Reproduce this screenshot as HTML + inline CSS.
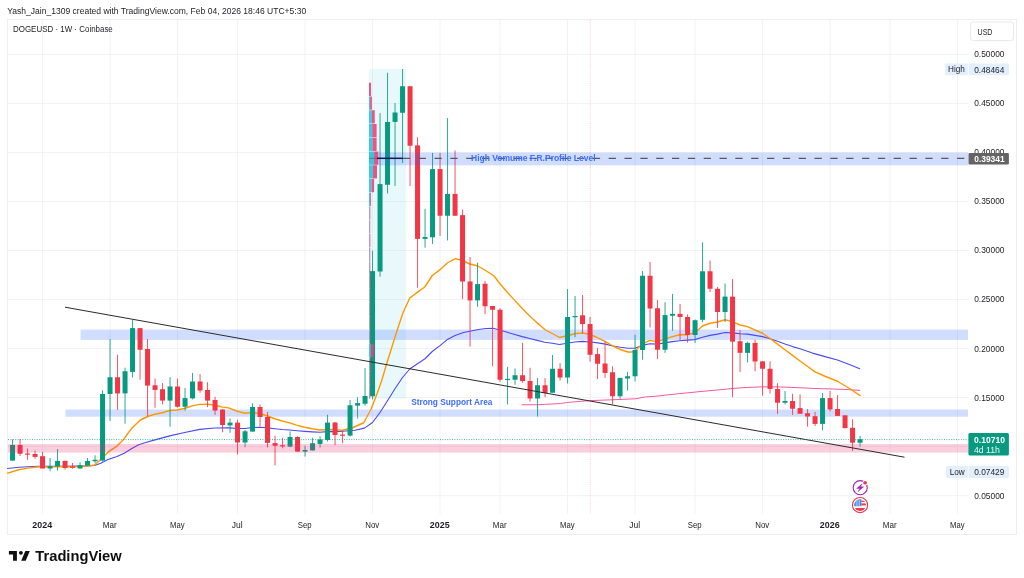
<!DOCTYPE html>
<html lang="en"><head><meta charset="utf-8"><title>DOGEUSD 1W chart</title>
<style>html,body{margin:0;padding:0;background:#fff;}body{width:1024px;height:578px;overflow:hidden;}svg{display:block;}text{font-family:'Liberation Sans', sans-serif;}</style>
</head><body>
<svg width="1024" height="578" viewBox="0 0 1024 578">
<rect x="0" y="0" width="1024" height="578" fill="#ffffff"/>
<g stroke="#f2f2f3" stroke-width="1" fill="none">
<line x1="42.55" y1="20" x2="42.55" y2="514"/>
<line x1="110.05" y1="20" x2="110.05" y2="514"/>
<line x1="177.55" y1="20" x2="177.55" y2="514"/>
<line x1="237.55" y1="20" x2="237.55" y2="514"/>
<line x1="305.05" y1="20" x2="305.05" y2="514"/>
<line x1="372.55" y1="20" x2="372.55" y2="514"/>
<line x1="440.05" y1="20" x2="440.05" y2="514"/>
<line x1="500.05" y1="20" x2="500.05" y2="514"/>
<line x1="567.55" y1="20" x2="567.55" y2="514"/>
<line x1="635.05" y1="20" x2="635.05" y2="514"/>
<line x1="695.05" y1="20" x2="695.05" y2="514"/>
<line x1="762.55" y1="20" x2="762.55" y2="514"/>
<line x1="830.05" y1="20" x2="830.05" y2="514"/>
<line x1="890.05" y1="20" x2="890.05" y2="514"/>
<line x1="957.55" y1="20" x2="957.55" y2="514"/>
<line x1="8" y1="54.4" x2="968.5" y2="54.4"/>
<line x1="8" y1="103.4" x2="968.5" y2="103.4"/>
<line x1="8" y1="152.4" x2="968.5" y2="152.4"/>
<line x1="8" y1="201.5" x2="968.5" y2="201.5"/>
<line x1="8" y1="250.5" x2="968.5" y2="250.5"/>
<line x1="8" y1="299.5" x2="968.5" y2="299.5"/>
<line x1="8" y1="348.5" x2="968.5" y2="348.5"/>
<line x1="8" y1="397.5" x2="968.5" y2="397.5"/>
<line x1="8" y1="446.6" x2="968.5" y2="446.6"/>
<line x1="8" y1="495.7" x2="968.5" y2="495.7"/>
</g>
<rect x="7.4" y="19.4" width="1009.1" height="515.1" fill="none" stroke="#eeeef0" stroke-width="1"/>
<rect x="369" y="69" width="37" height="329.75" fill="#26c6da" fill-opacity="0.10"/>
<rect x="80.6" y="329.6" width="887.4" height="10.3" fill="#2962ff" fill-opacity="0.22"/>
<rect x="65.5" y="409.5" width="902.5" height="7.2" fill="#2962ff" fill-opacity="0.22"/>
<line x1="590.3" y1="20" x2="590.3" y2="514" stroke="#f48fb1" stroke-width="1" stroke-dasharray="1 1.1" stroke-opacity="0.45"/>
<g fill="none" stroke-linejoin="round" stroke-linecap="round">
<path d="M522.25 404.75 L537.25 404.75 L544.25 404.4 L552.25 404 L560.5 403.5 L567.25 402.5 L578 401.5 L590.5 400.6 L613 399.75 L635.5 398.75 L645.5 396.9 L656 396.25 L670 394.6 L690 392.6 L704 391.2 L720 389.75 L732.5 388.5 L745 387.5 L762.5 386.9 L777.5 386.9 L795 387.5 L815 388.5 L832.5 389 L848 389.6 L859.75 390.4" stroke="#f8589f" stroke-width="1"/>
<path d="M7.5 468.5 L18.75 467.25 L37.5 466.25 L62.5 466.25 L87.5 465.9 L94.5 465.45 L100.8 463.2 L108 459.6 L117 456.45 L124.2 453.3 L131.4 448.8 L138.6 444.75 L145.8 442.5 L154 440.1 L169.75 435.9 L183.5 432.75 L199.75 429.4 L214.75 428 L229.75 427.9 L237.25 428.5 L244.75 428.5 L252.25 427.5 L259.75 427.25 L267.5 427.9 L274.75 428.75 L282.25 429.5 L289.75 430 L297.25 430.75 L304.75 431.4 L312.25 431.9 L319.75 432.25 L327.25 431.6 L334.75 431.6 L342.5 431.25 L355 430.25 L364.4 428.1 L372.5 422.5 L380 412.5 L388.75 398.75 L395 388.75 L402.5 377.5 L410 368.75 L417.5 363.75 L425 358.75 L432.5 351.25 L440 345.6 L447.5 339.4 L455 335.5 L463.5 332.5 L471 331 L478.5 329.5 L486 328.5 L492.9 328.25 L499.75 330 L507.25 332.25 L514.75 334.5 L522.25 336.6 L529.75 338.5 L537.25 340.4 L544.75 342.25 L552.25 343.25 L559.5 344.5 L567.25 343.25 L574.75 342 L582.25 341.4 L590.4 342 L597.9 342.9 L605.4 344.1 L612.9 346 L620.4 347.25 L627.9 348.25 L634.75 348.25 L642.25 345.4 L649.75 343.75 L657.25 344.1 L664.75 342.9 L672.25 341.6 L679.75 340.75 L687.25 340.1 L694.75 339.6 L702.5 337.25 L710 335.4 L717.5 334.1 L725 332.5 L732.5 332.9 L740 333.75 L747.5 334.1 L755 335.4 L762.5 336.6 L770 338.75 L777.5 341.25 L785 344.1 L792.5 346.6 L800 348.8 L812.5 353.1 L825 356.6 L837.5 360 L850 364.75 L859.75 368.75" stroke="#4a4af5" stroke-width="1.1"/>
<path d="M7.5 473.1 L18.75 469.75 L27.5 468.1 L37.5 467 L50 466.9 L62.5 466.5 L75 466.75 L87.5 466 L94.5 465 L99 461 L105.3 455.1 L109.35 451.05 L117 446.1 L123.3 439.8 L127.8 433.5 L132.3 427.65 L140.4 420 L147.5 416.5 L154.75 414.25 L162.25 412.75 L169.75 410.5 L177.25 410 L184.5 408.5 L192.25 405.9 L199.75 404.4 L207.25 404.25 L214.75 405 L222.5 407.1 L228.5 407.9 L237.25 411.25 L244.75 413.25 L252.25 412.5 L259.75 413.5 L267.5 416 L274.75 418.75 L282.25 421 L289.75 422.9 L297.25 425.4 L304.75 427.25 L312.25 428.75 L319.75 430 L327.25 429.5 L334.75 429.75 L342.5 430.25 L352.5 427.75 L363.75 422.75 L371.25 408.75 L377.5 392.5 L381.9 380 L386.25 365 L397.25 330 L402.9 313 L409.75 298 L417.25 292.4 L424.75 287 L432.25 275.5 L439.75 269.9 L447.25 263 L455.4 258.6 L462.25 260.5 L469.75 264 L477.25 265.75 L484 269.5 L494.1 276 L499.75 283.5 L507.25 292.25 L514.75 300.4 L522.25 308.5 L529.75 316 L537.25 322.9 L545.4 330 L552.25 333.5 L559.5 337.5 L567.25 335.75 L574.75 333.75 L582.25 332.9 L590.4 334.5 L597.9 337.9 L605.4 341.6 L612.9 346 L620.4 349.5 L627.9 352 L632.25 352 L636 350 L642.25 344.1 L649.75 340.4 L657.25 341.6 L664.75 339.1 L672.25 336.6 L679.75 334.75 L687.25 334.75 L694.75 332.9 L702.5 326 L710 323.25 L717.5 322 L725 319.75 L732.5 321.6 L740 325 L747.5 326.6 L755 330 L762.5 333.25 L770 338.5 L777.5 344.1 L785 349.75 L792.5 355.4 L800 361 L808.75 367.25 L815 371.9 L825 376.25 L837.5 381.25 L850 388.75 L860 395.6" stroke="#ff9800" stroke-width="1.4"/>
</g>
<g>
<rect x="12.05" y="439.4" width="1" height="21.2" fill="#089981" fill-opacity="0.85"/>
<rect x="10.05" y="445" width="5" height="15.6" fill="#089981"/>
<rect x="19.55" y="439" width="1" height="17" fill="#f23645" fill-opacity="0.85"/>
<rect x="17.55" y="445" width="5" height="8.75" fill="#f23645"/>
<rect x="27.05" y="448.5" width="1" height="11.2" fill="#f23645" fill-opacity="0.85"/>
<rect x="25.05" y="453.5" width="5" height="1.2" fill="#f23645"/>
<rect x="34.55" y="450.6" width="1" height="8.1" fill="#f23645" fill-opacity="0.85"/>
<rect x="32.55" y="454" width="5" height="2.9" fill="#f23645"/>
<rect x="42.05" y="452" width="1" height="16.5" fill="#f23645" fill-opacity="0.85"/>
<rect x="40.05" y="456.2" width="5" height="12.3" fill="#f23645"/>
<rect x="49.55" y="457.9" width="1" height="13.3" fill="#089981" fill-opacity="0.85"/>
<rect x="47.55" y="466.2" width="5" height="2.3" fill="#089981"/>
<rect x="57.05" y="449" width="1" height="21.6" fill="#089981" fill-opacity="0.85"/>
<rect x="55.05" y="460.9" width="5" height="5.6" fill="#089981"/>
<rect x="64.55" y="460.6" width="1" height="9.15" fill="#f23645" fill-opacity="0.85"/>
<rect x="62.55" y="460.9" width="5" height="7" fill="#f23645"/>
<rect x="72.05" y="462.9" width="1" height="5.85" fill="#f23645" fill-opacity="0.85"/>
<rect x="70.05" y="466.5" width="5" height="1.25" fill="#f23645"/>
<rect x="79.55" y="462.25" width="1" height="6.25" fill="#089981" fill-opacity="0.85"/>
<rect x="77.55" y="465.25" width="5" height="3.25" fill="#089981"/>
<rect x="87.05" y="457.9" width="1" height="7.7" fill="#089981" fill-opacity="0.85"/>
<rect x="85.05" y="460.9" width="5" height="4.7" fill="#089981"/>
<rect x="94.55" y="455.25" width="1" height="7.85" fill="#089981" fill-opacity="0.85"/>
<rect x="92.55" y="459.75" width="5" height="1.5" fill="#089981"/>
<rect x="102.05" y="390.25" width="1" height="71.25" fill="#089981" fill-opacity="0.85"/>
<rect x="100.05" y="394" width="5" height="66.6" fill="#089981"/>
<rect x="109.55" y="339" width="1" height="81.9" fill="#089981" fill-opacity="0.85"/>
<rect x="107.55" y="377.25" width="5" height="16.75" fill="#089981"/>
<rect x="117.05" y="354.75" width="1" height="55.25" fill="#f23645" fill-opacity="0.85"/>
<rect x="115.05" y="377.25" width="5" height="16.15" fill="#f23645"/>
<rect x="124.55" y="367.75" width="1" height="55.85" fill="#089981" fill-opacity="0.85"/>
<rect x="122.55" y="371.25" width="5" height="22.15" fill="#089981"/>
<rect x="132.05" y="320" width="1" height="57.5" fill="#089981" fill-opacity="0.85"/>
<rect x="130.05" y="328.1" width="5" height="43.8" fill="#089981"/>
<rect x="139.55" y="328.1" width="1" height="51.65" fill="#f23645" fill-opacity="0.85"/>
<rect x="137.55" y="328.1" width="5" height="21.65" fill="#f23645"/>
<rect x="147.05" y="339" width="1" height="77.5" fill="#f23645" fill-opacity="0.85"/>
<rect x="145.05" y="349" width="5" height="36.6" fill="#f23645"/>
<rect x="154.55" y="378.5" width="1" height="29.25" fill="#f23645" fill-opacity="0.85"/>
<rect x="152.55" y="385.25" width="5" height="4.65" fill="#f23645"/>
<rect x="162.05" y="383" width="1" height="21.4" fill="#f23645" fill-opacity="0.85"/>
<rect x="160.05" y="389.25" width="5" height="11.35" fill="#f23645"/>
<rect x="169.55" y="377.1" width="1" height="49.65" fill="#089981" fill-opacity="0.85"/>
<rect x="167.55" y="386.5" width="5" height="14.1" fill="#089981"/>
<rect x="177.05" y="378.6" width="1" height="28.9" fill="#f23645" fill-opacity="0.85"/>
<rect x="175.05" y="386.5" width="5" height="20.25" fill="#f23645"/>
<rect x="184.55" y="388" width="1" height="22.6" fill="#089981" fill-opacity="0.85"/>
<rect x="182.55" y="398.1" width="5" height="8.65" fill="#089981"/>
<rect x="192.05" y="372.9" width="1" height="26.5" fill="#089981" fill-opacity="0.85"/>
<rect x="190.05" y="381.5" width="5" height="16.9" fill="#089981"/>
<rect x="199.55" y="374.1" width="1" height="18.65" fill="#f23645" fill-opacity="0.85"/>
<rect x="197.55" y="381.5" width="5" height="9" fill="#f23645"/>
<rect x="207.05" y="382.1" width="1" height="25" fill="#f23645" fill-opacity="0.85"/>
<rect x="205.05" y="390" width="5" height="10.6" fill="#f23645"/>
<rect x="214.55" y="396.75" width="1" height="18.25" fill="#f23645" fill-opacity="0.85"/>
<rect x="212.55" y="400" width="5" height="10.6" fill="#f23645"/>
<rect x="222.05" y="409" width="1" height="23.25" fill="#f23645" fill-opacity="0.85"/>
<rect x="220.05" y="409.6" width="5" height="15.4" fill="#f23645"/>
<rect x="229.55" y="418.5" width="1" height="14.4" fill="#089981" fill-opacity="0.85"/>
<rect x="227.55" y="422.6" width="5" height="2.8" fill="#089981"/>
<rect x="237.05" y="419.75" width="1" height="34.75" fill="#f23645" fill-opacity="0.85"/>
<rect x="235.05" y="422.6" width="5" height="19.9" fill="#f23645"/>
<rect x="244.55" y="430" width="1" height="17.25" fill="#089981" fill-opacity="0.85"/>
<rect x="242.55" y="431.25" width="5" height="11.25" fill="#089981"/>
<rect x="252.05" y="403.25" width="1" height="28.35" fill="#089981" fill-opacity="0.85"/>
<rect x="250.05" y="407" width="5" height="24.6" fill="#089981"/>
<rect x="259.55" y="404.5" width="1" height="22.1" fill="#f23645" fill-opacity="0.85"/>
<rect x="257.55" y="407" width="5" height="10" fill="#f23645"/>
<rect x="267.05" y="412" width="1" height="35.5" fill="#f23645" fill-opacity="0.85"/>
<rect x="265.05" y="417" width="5" height="25.9" fill="#f23645"/>
<rect x="274.55" y="435.75" width="1" height="29.65" fill="#f23645" fill-opacity="0.85"/>
<rect x="272.55" y="443.1" width="5" height="2.65" fill="#f23645"/>
<rect x="282.05" y="437.9" width="1" height="10.35" fill="#f23645" fill-opacity="0.85"/>
<rect x="280.05" y="445.22" width="5" height="1.2" fill="#f23645"/>
<rect x="289.55" y="431.4" width="1" height="15.85" fill="#089981" fill-opacity="0.85"/>
<rect x="287.55" y="437" width="5" height="9.6" fill="#089981"/>
<rect x="297.05" y="436.25" width="1" height="15.35" fill="#f23645" fill-opacity="0.85"/>
<rect x="295.05" y="437" width="5" height="14.6" fill="#f23645"/>
<rect x="304.55" y="445.75" width="1" height="10.85" fill="#089981" fill-opacity="0.85"/>
<rect x="302.55" y="450" width="5" height="1.6" fill="#089981"/>
<rect x="312.05" y="437.9" width="1" height="12.5" fill="#089981" fill-opacity="0.85"/>
<rect x="310.05" y="443.25" width="5" height="7.15" fill="#089981"/>
<rect x="319.55" y="436.25" width="1" height="11.25" fill="#089981" fill-opacity="0.85"/>
<rect x="317.55" y="439.5" width="5" height="4.4" fill="#089981"/>
<rect x="327.05" y="414.75" width="1" height="26.85" fill="#089981" fill-opacity="0.85"/>
<rect x="325.05" y="422.6" width="5" height="17.4" fill="#089981"/>
<rect x="334.55" y="422" width="1" height="23.2" fill="#f23645" fill-opacity="0.85"/>
<rect x="332.55" y="422.5" width="5" height="12.5" fill="#f23645"/>
<rect x="342.05" y="430.5" width="1" height="12.7" fill="#f23645" fill-opacity="0.85"/>
<rect x="340.05" y="434.57" width="5" height="1.2" fill="#f23645"/>
<rect x="349.55" y="400" width="1" height="36.5" fill="#089981" fill-opacity="0.85"/>
<rect x="347.55" y="405.25" width="5" height="30.35" fill="#089981"/>
<rect x="357.05" y="397.25" width="1" height="21.25" fill="#089981" fill-opacity="0.85"/>
<rect x="355.05" y="403.1" width="5" height="2.5" fill="#089981"/>
<rect x="364.55" y="368.1" width="1" height="37.5" fill="#089981" fill-opacity="0.85"/>
<rect x="362.55" y="396" width="5" height="7.75" fill="#089981"/>
<rect x="372.05" y="250.75" width="1" height="148.65" fill="#089981" fill-opacity="0.85"/>
<rect x="370.05" y="271.1" width="5" height="125.15" fill="#089981"/>
<rect x="379.55" y="113.1" width="1" height="163.65" fill="#089981" fill-opacity="0.85"/>
<rect x="377.55" y="184.1" width="5" height="87.4" fill="#089981"/>
<rect x="387.05" y="72.75" width="1" height="120.75" fill="#089981" fill-opacity="0.85"/>
<rect x="385.05" y="121.9" width="5" height="62.85" fill="#089981"/>
<rect x="394.55" y="103.1" width="1" height="82.9" fill="#089981" fill-opacity="0.85"/>
<rect x="392.55" y="112.5" width="5" height="9.4" fill="#089981"/>
<rect x="402.05" y="69" width="1" height="93.9" fill="#089981" fill-opacity="0.85"/>
<rect x="400.05" y="86.25" width="5" height="26.5" fill="#089981"/>
<rect x="409.55" y="86.25" width="1" height="99.75" fill="#f23645" fill-opacity="0.85"/>
<rect x="407.55" y="86.25" width="5" height="59.5" fill="#f23645"/>
<rect x="417.05" y="137.25" width="1" height="150.5" fill="#f23645" fill-opacity="0.85"/>
<rect x="415.05" y="145.4" width="5" height="93.5" fill="#f23645"/>
<rect x="424.55" y="208.9" width="1" height="38.7" fill="#089981" fill-opacity="0.85"/>
<rect x="422.55" y="237" width="5" height="1.9" fill="#089981"/>
<rect x="432.05" y="152.9" width="1" height="91" fill="#089981" fill-opacity="0.85"/>
<rect x="430.05" y="169.1" width="5" height="68.15" fill="#089981"/>
<rect x="439.55" y="152.9" width="1" height="83.1" fill="#f23645" fill-opacity="0.85"/>
<rect x="437.55" y="169.1" width="5" height="46.65" fill="#f23645"/>
<rect x="447.05" y="118.1" width="1" height="122.4" fill="#089981" fill-opacity="0.85"/>
<rect x="445.05" y="193.9" width="5" height="21.85" fill="#089981"/>
<rect x="454.55" y="150.4" width="1" height="65.35" fill="#f23645" fill-opacity="0.85"/>
<rect x="452.55" y="193.9" width="5" height="21.85" fill="#f23645"/>
<rect x="462.05" y="209.5" width="1" height="89.7" fill="#f23645" fill-opacity="0.85"/>
<rect x="460.05" y="215.1" width="5" height="66.4" fill="#f23645"/>
<rect x="469.55" y="257" width="1" height="89.6" fill="#f23645" fill-opacity="0.85"/>
<rect x="467.55" y="281.5" width="5" height="18.9" fill="#f23645"/>
<rect x="477.05" y="262.7" width="1" height="44.1" fill="#089981" fill-opacity="0.85"/>
<rect x="475.05" y="284.1" width="5" height="16.3" fill="#089981"/>
<rect x="484.55" y="281" width="1" height="33.1" fill="#f23645" fill-opacity="0.85"/>
<rect x="482.55" y="283.75" width="5" height="22.5" fill="#f23645"/>
<rect x="492.05" y="306" width="1" height="60.25" fill="#f23645" fill-opacity="0.85"/>
<rect x="490.05" y="306" width="5" height="3.75" fill="#f23645"/>
<rect x="499.55" y="308.25" width="1" height="73.65" fill="#f23645" fill-opacity="0.85"/>
<rect x="497.55" y="309.75" width="5" height="70" fill="#f23645"/>
<rect x="507.05" y="366.9" width="1" height="37.5" fill="#089981" fill-opacity="0.85"/>
<rect x="505.05" y="378.85" width="5" height="1.2" fill="#089981"/>
<rect x="514.55" y="368.5" width="1" height="16.25" fill="#089981" fill-opacity="0.85"/>
<rect x="512.55" y="375.25" width="5" height="4.5" fill="#089981"/>
<rect x="522.05" y="342.8" width="1" height="39.95" fill="#f23645" fill-opacity="0.85"/>
<rect x="520.05" y="375.25" width="5" height="5.75" fill="#f23645"/>
<rect x="529.55" y="367.75" width="1" height="33.75" fill="#f23645" fill-opacity="0.85"/>
<rect x="527.55" y="381" width="5" height="17.5" fill="#f23645"/>
<rect x="537.05" y="378.1" width="1" height="38.4" fill="#089981" fill-opacity="0.85"/>
<rect x="535.05" y="385.25" width="5" height="13.25" fill="#089981"/>
<rect x="544.55" y="378.1" width="1" height="19.15" fill="#f23645" fill-opacity="0.85"/>
<rect x="542.55" y="385.25" width="5" height="7.85" fill="#f23645"/>
<rect x="552.05" y="355" width="1" height="37.75" fill="#089981" fill-opacity="0.85"/>
<rect x="550.05" y="368.75" width="5" height="24" fill="#089981"/>
<rect x="559.55" y="363.1" width="1" height="17.5" fill="#f23645" fill-opacity="0.85"/>
<rect x="557.55" y="368.75" width="5" height="8.75" fill="#f23645"/>
<rect x="567.05" y="289.1" width="1" height="94.4" fill="#089981" fill-opacity="0.85"/>
<rect x="565.05" y="317" width="5" height="60.5" fill="#089981"/>
<rect x="574.55" y="296" width="1" height="41.25" fill="#089981" fill-opacity="0.85"/>
<rect x="572.55" y="316" width="5" height="1.25" fill="#089981"/>
<rect x="582.05" y="295" width="1" height="38.8" fill="#f23645" fill-opacity="0.85"/>
<rect x="580.05" y="315.3" width="5" height="8.8" fill="#f23645"/>
<rect x="589.55" y="317" width="1" height="44.6" fill="#f23645" fill-opacity="0.85"/>
<rect x="587.55" y="324" width="5" height="30.75" fill="#f23645"/>
<rect x="597.05" y="347.9" width="1" height="31.2" fill="#f23645" fill-opacity="0.85"/>
<rect x="595.05" y="354.1" width="5" height="9.65" fill="#f23645"/>
<rect x="604.55" y="341.6" width="1" height="36.3" fill="#f23645" fill-opacity="0.85"/>
<rect x="602.55" y="363.5" width="5" height="9.4" fill="#f23645"/>
<rect x="612.05" y="366.25" width="1" height="38.15" fill="#f23645" fill-opacity="0.85"/>
<rect x="610.05" y="372.25" width="5" height="24" fill="#f23645"/>
<rect x="619.55" y="377.9" width="1" height="20.85" fill="#089981" fill-opacity="0.85"/>
<rect x="617.55" y="377.9" width="5" height="18.35" fill="#089981"/>
<rect x="627.05" y="372" width="1" height="18.6" fill="#089981" fill-opacity="0.85"/>
<rect x="625.05" y="376.25" width="5" height="2.25" fill="#089981"/>
<rect x="634.55" y="334.75" width="1" height="46.65" fill="#089981" fill-opacity="0.85"/>
<rect x="632.55" y="350" width="5" height="26.25" fill="#089981"/>
<rect x="642.05" y="271" width="1" height="88.75" fill="#089981" fill-opacity="0.85"/>
<rect x="640.05" y="275.75" width="5" height="74.25" fill="#089981"/>
<rect x="649.55" y="262" width="1" height="65.5" fill="#f23645" fill-opacity="0.85"/>
<rect x="647.55" y="275.75" width="5" height="32.75" fill="#f23645"/>
<rect x="657.05" y="300.1" width="1" height="59" fill="#f23645" fill-opacity="0.85"/>
<rect x="655.05" y="308.25" width="5" height="41.5" fill="#f23645"/>
<rect x="664.55" y="302.25" width="1" height="50.65" fill="#089981" fill-opacity="0.85"/>
<rect x="662.55" y="315.1" width="5" height="34.65" fill="#089981"/>
<rect x="672.05" y="293.9" width="1" height="36.85" fill="#089981" fill-opacity="0.85"/>
<rect x="670.05" y="313.9" width="5" height="1.85" fill="#089981"/>
<rect x="679.55" y="303.9" width="1" height="36.5" fill="#f23645" fill-opacity="0.85"/>
<rect x="677.55" y="313.9" width="5" height="3.1" fill="#f23645"/>
<rect x="687.05" y="314.5" width="1" height="28" fill="#f23645" fill-opacity="0.85"/>
<rect x="685.05" y="317" width="5" height="18" fill="#f23645"/>
<rect x="694.55" y="319.5" width="1" height="23.5" fill="#089981" fill-opacity="0.85"/>
<rect x="692.55" y="320.2" width="5" height="14.8" fill="#089981"/>
<rect x="702.05" y="242.25" width="1" height="79.85" fill="#089981" fill-opacity="0.85"/>
<rect x="700.05" y="271.3" width="5" height="48.5" fill="#089981"/>
<rect x="709.55" y="260.4" width="1" height="31.6" fill="#f23645" fill-opacity="0.85"/>
<rect x="707.55" y="271.25" width="5" height="17.5" fill="#f23645"/>
<rect x="717.05" y="287" width="1" height="40.9" fill="#f23645" fill-opacity="0.85"/>
<rect x="715.05" y="288.75" width="5" height="23.25" fill="#f23645"/>
<rect x="724.55" y="283.5" width="1" height="38.5" fill="#089981" fill-opacity="0.85"/>
<rect x="722.55" y="296.6" width="5" height="15.4" fill="#089981"/>
<rect x="732.05" y="279.1" width="1" height="118.15" fill="#f23645" fill-opacity="0.85"/>
<rect x="730.05" y="296.6" width="5" height="45" fill="#f23645"/>
<rect x="739.55" y="330" width="1" height="41.9" fill="#f23645" fill-opacity="0.85"/>
<rect x="737.55" y="341.25" width="5" height="11.55" fill="#f23645"/>
<rect x="747.05" y="341.6" width="1" height="20.8" fill="#089981" fill-opacity="0.85"/>
<rect x="745.05" y="342.9" width="5" height="10" fill="#089981"/>
<rect x="754.55" y="339.5" width="1" height="31.75" fill="#f23645" fill-opacity="0.85"/>
<rect x="752.55" y="342.9" width="5" height="18.6" fill="#f23645"/>
<rect x="762.05" y="361" width="1" height="34.6" fill="#f23645" fill-opacity="0.85"/>
<rect x="760.05" y="361.4" width="5" height="7.35" fill="#f23645"/>
<rect x="769.55" y="361.25" width="1" height="32.25" fill="#f23645" fill-opacity="0.85"/>
<rect x="767.55" y="368.75" width="5" height="20.25" fill="#f23645"/>
<rect x="777.05" y="383.1" width="1" height="30.65" fill="#f23645" fill-opacity="0.85"/>
<rect x="775.05" y="389" width="5" height="13.75" fill="#f23645"/>
<rect x="784.55" y="391" width="1" height="13.4" fill="#089981" fill-opacity="0.85"/>
<rect x="782.55" y="401" width="5" height="1.75" fill="#089981"/>
<rect x="792.05" y="393.75" width="1" height="21.25" fill="#f23645" fill-opacity="0.85"/>
<rect x="790.05" y="401" width="5" height="7.75" fill="#f23645"/>
<rect x="799.55" y="394.4" width="1" height="19.35" fill="#f23645" fill-opacity="0.85"/>
<rect x="797.55" y="408.1" width="5" height="5.65" fill="#f23645"/>
<rect x="807.05" y="409" width="1" height="17.6" fill="#f23645" fill-opacity="0.85"/>
<rect x="805.05" y="413.2" width="5" height="3.3" fill="#f23645"/>
<rect x="814.55" y="411.9" width="1" height="14.1" fill="#f23645" fill-opacity="0.85"/>
<rect x="812.55" y="416.2" width="5" height="7.7" fill="#f23645"/>
<rect x="822.05" y="393.1" width="1" height="37.1" fill="#089981" fill-opacity="0.85"/>
<rect x="820.05" y="398.1" width="5" height="25.8" fill="#089981"/>
<rect x="829.55" y="391" width="1" height="20.4" fill="#f23645" fill-opacity="0.85"/>
<rect x="827.55" y="398.1" width="5" height="11.3" fill="#f23645"/>
<rect x="837.05" y="395.1" width="1" height="20.8" fill="#f23645" fill-opacity="0.85"/>
<rect x="835.05" y="409" width="5" height="6.9" fill="#f23645"/>
<rect x="844.55" y="415.3" width="1" height="13.2" fill="#f23645" fill-opacity="0.85"/>
<rect x="842.55" y="415.3" width="5" height="12.8" fill="#f23645"/>
<rect x="852.05" y="419.2" width="1" height="31.7" fill="#f23645" fill-opacity="0.85"/>
<rect x="850.05" y="427.8" width="5" height="14.9" fill="#f23645"/>
<rect x="859.55" y="435.9" width="1" height="10.7" fill="#089981" fill-opacity="0.85"/>
<rect x="857.55" y="439.2" width="5" height="3.5" fill="#089981"/>
</g>
<rect x="369" y="152.6" width="599" height="12.7" fill="#2962ff" fill-opacity="0.22"/>
<rect x="7.9" y="444" width="960.5" height="8.6" fill="#e91e63" fill-opacity="0.22"/>
<g>
<rect x="369" y="82.75" width="2" height="13.2" fill="#ec407a" fill-opacity="0.9"/>
<rect x="369" y="96.5" width="1.1" height="13.2" fill="#26c6da" fill-opacity="0.9"/>
<rect x="370.1" y="96.5" width="1.8" height="13.2" fill="#ec407a" fill-opacity="0.9"/>
<rect x="369" y="110.25" width="2.9" height="13.2" fill="#26c6da" fill-opacity="0.9"/>
<rect x="371.9" y="110.25" width="2.85" height="13.2" fill="#ec407a" fill-opacity="0.9"/>
<rect x="369" y="124" width="3.25" height="13.2" fill="#26c6da" fill-opacity="0.9"/>
<rect x="372.25" y="124" width="4.35" height="13.2" fill="#ec407a" fill-opacity="0.9"/>
<rect x="369" y="137.75" width="3.6" height="13.2" fill="#26c6da" fill-opacity="0.9"/>
<rect x="372.6" y="137.75" width="4" height="13.2" fill="#ec407a" fill-opacity="0.9"/>
<rect x="369" y="151.5" width="5.1" height="13.2" fill="#26c6da" fill-opacity="0.9"/>
<rect x="374.1" y="151.5" width="4.15" height="13.2" fill="#ec407a" fill-opacity="0.9"/>
<rect x="369" y="165.25" width="3.9" height="13.2" fill="#26c6da" fill-opacity="0.9"/>
<rect x="372.9" y="165.25" width="4.1" height="13.2" fill="#ec407a" fill-opacity="0.9"/>
<rect x="369" y="179" width="2.6" height="13.2" fill="#26c6da" fill-opacity="0.9"/>
<rect x="371.6" y="179" width="2.5" height="13.2" fill="#ec407a" fill-opacity="0.9"/>
<rect x="369" y="192.75" width="1" height="13.2" fill="#26c6da" fill-opacity="0.9"/>
<rect x="370" y="192.75" width="0.9" height="13.2" fill="#ec407a" fill-opacity="0.9"/>
<rect x="369" y="206.5" width="0.6" height="13.2" fill="#26c6da" fill-opacity="0.9"/>
<rect x="369.6" y="206.5" width="0.7" height="13.2" fill="#ec407a" fill-opacity="0.9"/>
<rect x="369" y="220.25" width="0.5" height="13.2" fill="#26c6da" fill-opacity="0.9"/>
<rect x="369.5" y="220.25" width="0.7" height="13.2" fill="#ec407a" fill-opacity="0.9"/>
<rect x="369" y="234" width="0.5" height="13.2" fill="#26c6da" fill-opacity="0.9"/>
<rect x="369.5" y="234" width="0.8" height="13.2" fill="#ec407a" fill-opacity="0.9"/>
<rect x="369" y="247.75" width="0.6" height="13.2" fill="#26c6da" fill-opacity="0.9"/>
<rect x="369.6" y="247.75" width="0.6" height="13.2" fill="#ec407a" fill-opacity="0.9"/>
<rect x="369" y="261.5" width="0.5" height="13.2" fill="#26c6da" fill-opacity="0.9"/>
<rect x="369.5" y="261.5" width="0.7" height="13.2" fill="#ec407a" fill-opacity="0.9"/>
<rect x="369" y="275.25" width="0.5" height="13.2" fill="#26c6da" fill-opacity="0.9"/>
<rect x="369.5" y="275.25" width="0.8" height="13.2" fill="#ec407a" fill-opacity="0.9"/>
<rect x="369" y="289" width="0.6" height="13.2" fill="#26c6da" fill-opacity="0.9"/>
<rect x="369.6" y="289" width="0.7" height="13.2" fill="#ec407a" fill-opacity="0.9"/>
<rect x="369" y="302.75" width="0.5" height="13.2" fill="#26c6da" fill-opacity="0.9"/>
<rect x="369.5" y="302.75" width="0.7" height="13.2" fill="#ec407a" fill-opacity="0.9"/>
<rect x="369" y="316.5" width="0.6" height="13.2" fill="#26c6da" fill-opacity="0.9"/>
<rect x="369.6" y="316.5" width="0.7" height="13.2" fill="#ec407a" fill-opacity="0.9"/>
<rect x="369" y="330.25" width="0.6" height="13.2" fill="#26c6da" fill-opacity="0.9"/>
<rect x="369.6" y="330.25" width="0.8" height="13.2" fill="#ec407a" fill-opacity="0.9"/>
<rect x="369" y="344" width="2" height="13.2" fill="#26c6da" fill-opacity="0.9"/>
<rect x="371" y="344" width="2.75" height="13.2" fill="#ec407a" fill-opacity="0.9"/>
<rect x="369" y="357.75" width="0.7" height="13.2" fill="#26c6da" fill-opacity="0.9"/>
<rect x="369.7" y="357.75" width="0.9" height="13.2" fill="#ec407a" fill-opacity="0.9"/>
<rect x="369" y="371.5" width="0.6" height="13.2" fill="#26c6da" fill-opacity="0.9"/>
<rect x="369.6" y="371.5" width="0.8" height="13.2" fill="#ec407a" fill-opacity="0.9"/>
<rect x="369" y="385.25" width="0.5" height="13.2" fill="#26c6da" fill-opacity="0.9"/>
<rect x="369.5" y="385.25" width="0.7" height="13.2" fill="#ec407a" fill-opacity="0.9"/>
</g>
<line x1="377" y1="158.3" x2="403" y2="158.3" stroke="#131c4a" stroke-width="1.5"/>
<line x1="369" y1="158.3" x2="377" y2="158.3" stroke="#555" stroke-width="1" stroke-opacity="0.6"/>
<line x1="402.8" y1="158.3" x2="968" y2="158.3" stroke="#5a5a5a" stroke-width="1.2" stroke-dasharray="7.3 8.535"/>
<line x1="65" y1="307.2" x2="904.5" y2="457.2" stroke="#2a2a2a" stroke-width="1"/>
<line x1="8" y1="439.6" x2="968.5" y2="439.6" stroke="#089981" stroke-width="0.9" stroke-dasharray="1 1.4" stroke-opacity="0.85"/>
<text x="411.2" y="405.2" font-size="9.4" font-weight="bold" fill="#3d6eff" textLength="81.3" lengthAdjust="spacingAndGlyphs">Strong Support Area</text>
<text x="471" y="161" font-size="9.4" font-weight="bold" fill="#3d6eff" textLength="124.5" lengthAdjust="spacingAndGlyphs">High Vomume F.R.Profile Level</text>
<g font-size="9.5" fill="#1e1e22">
<text x="974.2" y="56.8" textLength="30.3" lengthAdjust="spacingAndGlyphs">0.50000</text>
<text x="974.2" y="105.93" textLength="30.3" lengthAdjust="spacingAndGlyphs">0.45000</text>
<text x="974.2" y="155.06" textLength="30.3" lengthAdjust="spacingAndGlyphs">0.40000</text>
<text x="974.2" y="204.19" textLength="30.3" lengthAdjust="spacingAndGlyphs">0.35000</text>
<text x="974.2" y="253.32" textLength="30.3" lengthAdjust="spacingAndGlyphs">0.30000</text>
<text x="974.2" y="302.45" textLength="30.3" lengthAdjust="spacingAndGlyphs">0.25000</text>
<text x="974.2" y="351.58" textLength="30.3" lengthAdjust="spacingAndGlyphs">0.20000</text>
<text x="974.2" y="400.71" textLength="30.3" lengthAdjust="spacingAndGlyphs">0.15000</text>
<text x="974.2" y="498.97" textLength="30.3" lengthAdjust="spacingAndGlyphs">0.05000</text>
</g>
<rect x="970.7" y="22" width="42.8" height="18.6" rx="2.5" fill="#fff" stroke="#e6e8ee" stroke-width="1"/>
<text x="977.5" y="35.3" font-size="9.2" fill="#1e1e22" textLength="15" lengthAdjust="spacingAndGlyphs">USD</text>
<rect x="945" y="63.5" width="22.8" height="11.8" rx="1.2" fill="#e3effd"/>
<rect x="968.6" y="63.5" width="40.3" height="11.8" rx="1.2" fill="#e3effd"/>
<text x="948" y="72.4" font-size="9.5" fill="#1e1e22" textLength="16.8" lengthAdjust="spacingAndGlyphs">High</text>
<text x="974.2" y="72.6" font-size="9.5" fill="#1e1e22" textLength="30.2" lengthAdjust="spacingAndGlyphs">0.48464</text>
<rect x="946.1" y="465.9" width="21.7" height="12" rx="1.2" fill="#e3effd"/>
<rect x="968.6" y="465.9" width="40.3" height="12" rx="1.2" fill="#e3effd"/>
<text x="949.7" y="474.7" font-size="9.5" fill="#1e1e22" textLength="15" lengthAdjust="spacingAndGlyphs">Low</text>
<text x="974.2" y="474.9" font-size="9.5" fill="#1e1e22" textLength="30.2" lengthAdjust="spacingAndGlyphs">0.07429</text>
<rect x="968.5" y="152.9" width="40.4" height="11.5" rx="1.2" fill="#646464"/>
<text x="974.2" y="161.9" font-size="9.7" font-weight="bold" fill="#fff" textLength="30.5" lengthAdjust="spacingAndGlyphs">0.39341</text>
<rect x="968.4" y="433.1" width="40.5" height="22.5" rx="1.5" fill="#089981"/>
<text x="974" y="442.7" font-size="9.7" font-weight="bold" fill="#fff" textLength="30.9" lengthAdjust="spacingAndGlyphs">0.10710</text>
<text x="974" y="452.5" font-size="9.6" fill="#fff" fill-opacity="0.92" textLength="25.9" lengthAdjust="spacingAndGlyphs">4d 11h</text>
<g font-size="9.5" fill="#1e1e22">
<text x="32.35" y="527.9" textLength="19.8" lengthAdjust="spacingAndGlyphs" font-weight="bold">2024</text>
<text x="102.8" y="527.9" textLength="13.9" lengthAdjust="spacingAndGlyphs">Mar</text>
<text x="170" y="527.9" textLength="14.5" lengthAdjust="spacingAndGlyphs">May</text>
<text x="231.85" y="527.9" textLength="10.8" lengthAdjust="spacingAndGlyphs">Jul</text>
<text x="297.85" y="527.9" textLength="13.8" lengthAdjust="spacingAndGlyphs">Sep</text>
<text x="365.25" y="527.9" textLength="14.0" lengthAdjust="spacingAndGlyphs">Nov</text>
<text x="429.85" y="527.9" textLength="19.8" lengthAdjust="spacingAndGlyphs" font-weight="bold">2025</text>
<text x="492.8" y="527.9" textLength="13.9" lengthAdjust="spacingAndGlyphs">Mar</text>
<text x="560" y="527.9" textLength="14.5" lengthAdjust="spacingAndGlyphs">May</text>
<text x="629.35" y="527.9" textLength="10.8" lengthAdjust="spacingAndGlyphs">Jul</text>
<text x="687.85" y="527.9" textLength="13.8" lengthAdjust="spacingAndGlyphs">Sep</text>
<text x="755.25" y="527.9" textLength="14.0" lengthAdjust="spacingAndGlyphs">Nov</text>
<text x="819.85" y="527.9" textLength="19.8" lengthAdjust="spacingAndGlyphs" font-weight="bold">2026</text>
<text x="882.8" y="527.9" textLength="13.9" lengthAdjust="spacingAndGlyphs">Mar</text>
<text x="950" y="527.9" textLength="14.5" lengthAdjust="spacingAndGlyphs">May</text>
</g>
<g fill="none">
<circle cx="860.2" cy="487.65" r="7.05" stroke="#9c27b0" stroke-width="1.1"/>
<path d="M862.10 483.85 L856.70 488.45 L859.90 488.45 L858.00 491.65 L863.50 486.85 L860.40 486.85 Z" fill="#9c27b0" stroke="#9c27b0" stroke-width="0.5" stroke-linejoin="round"/>
<circle cx="865.1" cy="482.75" r="2.6" fill="#fff"/>
<circle cx="865.1" cy="482.75" r="1.85" fill="#f23645"/>
<circle cx="860.05" cy="505.05" r="7.6" stroke="#f23645" stroke-width="1.1"/>
<clipPath id="fc"><circle cx="860.05" cy="505.05" r="5.9"/></clipPath>
<g clip-path="url(#fc)">
<rect x="854" y="499" width="13" height="12" fill="#fff"/>
<rect x="854" y="499" width="7.4" height="7.2" fill="#2f7fe6"/>
<rect x="855.8" y="500" width="0.7" height="6.2" fill="#fff" fill-opacity="0.85"/>
<rect x="857.6" y="500" width="0.7" height="6.2" fill="#fff" fill-opacity="0.85"/>
<rect x="859.4" y="500" width="0.7" height="6.2" fill="#fff" fill-opacity="0.85"/>
<rect x="861.4" y="500.6" width="6" height="1.3" fill="#f23645"/>
<rect x="861.4" y="503.4" width="6" height="2" fill="#f23645"/>
<rect x="854" y="508" width="13" height="3" fill="#f23645"/>
</g>
</g>
<text x="7.2" y="13.5" font-size="8.9" fill="#1e1e22" textLength="299" lengthAdjust="spacingAndGlyphs">Yash_Jain_1309 created with TradingView.com, Feb 04, 2026 18:46 UTC+5:30</text>
<text x="13" y="32.4" font-size="8.9" fill="#1e1e22" textLength="99.8" lengthAdjust="spacingAndGlyphs">DOGEUSD · 1W · Coinbase</text>
<g fill="#101010">
<path d="M8.9 550.9 H16.9 V560.8 H13.05 V554.6 H8.9 Z"/>
<circle cx="20.9" cy="552.85" r="1.95"/>
<path d="M25.3 550.9 H29.8 L25.7 560.8 H21.2 Z"/>
<text x="35.3" y="561.1" font-size="14" font-weight="bold" textLength="86.4" lengthAdjust="spacingAndGlyphs">TradingView</text>
</g>
</svg>
</body></html>
